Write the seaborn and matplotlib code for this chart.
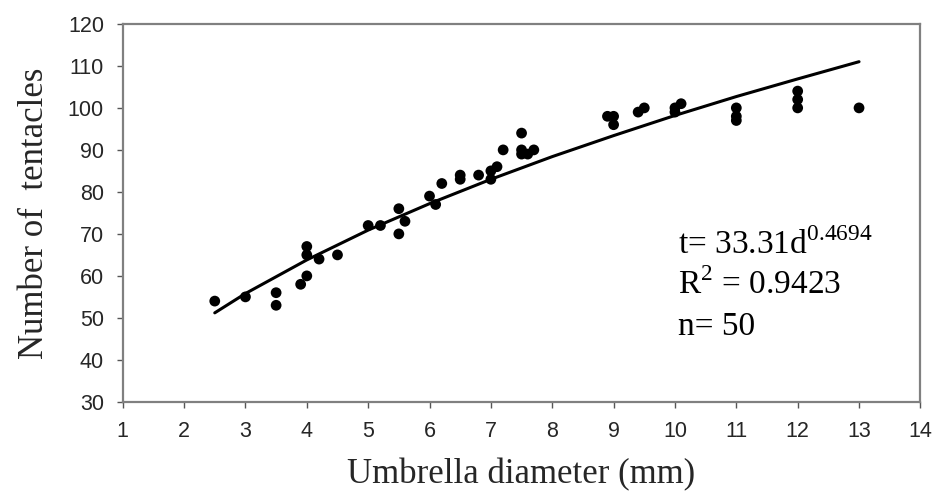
import matplotlib
matplotlib.use("Agg")
import matplotlib.pyplot as plt
import seaborn as sns
import pandas as pd

# umbrella diameter (mm) vs number of tentacles
diameter = [2.5, 3, 3.5, 3.5, 3.9, 4, 4, 4, 4.2, 4.5,
            5, 5.2, 5.5, 5.5, 5.6, 6, 6.1, 6.2, 6.5, 6.5,
            6.8, 7, 7, 7.1, 7.2, 7.5, 7.5, 7.5, 7.6, 7.7,
            8.9, 9, 9, 9.4, 9.5, 10, 10, 10.1, 11, 11,
            11, 12, 12, 12, 13]
tentacles = [54, 55, 56, 53, 58, 60, 67, 65, 64, 65,
             72, 72, 76, 70, 73, 79, 77, 82, 84, 83,
             84, 85, 83, 86, 90, 94, 90, 89, 89, 90,
             98, 98, 96, 99, 100, 100, 99, 101, 100, 98,
             97, 104, 102, 100, 100]

# power trend line
curve_d = [2.5, 3, 4, 5, 6, 7, 8, 9, 10, 11, 12, 13]
curve_t = [51.2, 55.8, 63.8, 70.9, 77.2, 83.0, 88.4, 93.4, 98.2, 102.7, 106.9, 111.0]

x_ticks = list(range(1, 15))
y_ticks = list(range(30, 121, 10))

pts = pd.DataFrame({"d": diameter, "t": tentacles})
fit = pd.DataFrame({"d": curve_d, "t": curve_t})

sns.set_theme(style="white")
plt.rcParams["mathtext.fontset"] = "custom"
plt.rcParams["mathtext.rm"] = "Liberation Serif"

fig, ax = plt.subplots(figsize=(9.44, 4.98), dpi=100)
fig.subplots_adjust(left=0.130, right=0.975, top=0.952, bottom=0.193)

sns.lineplot(data=fit, x="d", y="t", color="black", linewidth=2.2, ax=ax)
sns.scatterplot(data=pts, x="d", y="t", color="black", s=60, edgecolor="none", ax=ax)

ax.set_xlim(1, 14)
ax.set_ylim(30, 120)
ax.set_xticks(x_ticks)
ax.set_yticks(y_ticks)
ax.tick_params(axis="both", direction="out", length=4.5, width=1, color="#555555",
               labelsize=15.5, pad=9, bottom=True, left=True)
for lab in ax.get_xticklabels() + ax.get_yticklabels():
    lab.set_family("Liberation Sans")

for sp in ax.spines.values():
    sp.set_color("#808080")
    sp.set_linewidth(1.6)

ax.set_xlabel("Umbrella diameter (mm)", family="Liberation Serif", fontsize=25, labelpad=12)
ax.set_ylabel("Number of  tentacles", family="Liberation Serif", fontsize=25, labelpad=12)

txt = dict(family="Liberation Serif", fontsize=24, color="black", va="center", ha="left")
ax.text(10.05, 67.4, r"t= 33.31d$^{\mathrm{0.4694}}$", **txt)
ax.text(10.05, 57.8, r"R$^{\mathrm{2}}$ = 0.9423", **txt)
ax.text(10.05, 48.0, "n= 50", **txt)

fig.savefig("out.png", dpi=100)
